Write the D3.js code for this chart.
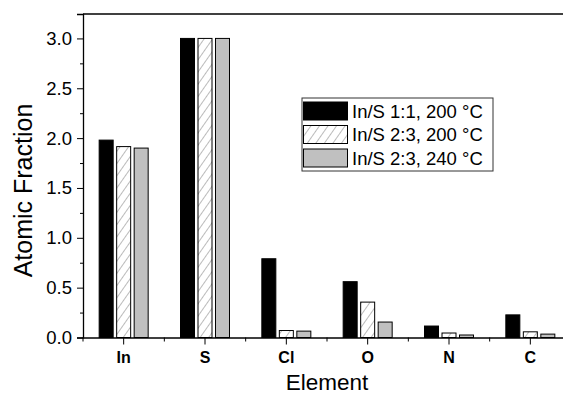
<!DOCTYPE html>
<html>
<head>
<meta charset="utf-8">
<script src="https://cdn.jsdelivr.net/npm/d3@7"></script>
<style>
  body { margin: 0; background: #fff; overflow: hidden; }
  svg { display: block; font-family: "Liberation Sans", Arial, sans-serif; }
</style>
</head>
<body>
<div id="chart"></div>
<script>
let elements = ["In", "S", "Cl", "O", "N", "C"];
let seriesNames = ["In/S 1:1, 200 °C", "In/S 2:3, 200 °C", "In/S 2:3, 240 °C"];
let black11 = [1.98, 3.0, 0.79, 0.56, 0.115, 0.227];
let hatch23 = [1.915, 3.0, 0.07, 0.355, 0.045, 0.057];
let gray23  = [1.90, 3.0, 0.064, 0.155, 0.025, 0.034];
let yTicks = [0, 0.5, 1.0, 1.5, 2.0, 2.5, 3.0];

let width = 563, height = 394;
let margin = { top: 14, left: 83, bottom: 337.5, right: 571 };

let seriesValues = [black11, hatch23, gray23];
let data = [];
elements.forEach(function(el, i) {
    seriesNames.forEach(function(s, j) {
        data.push({ element: el, series: s, value: seriesValues[j][i] });
    });
});

let xScale = d3.scaleBand()
    .domain(elements)
    .range([margin.left, margin.right]);

let inner = d3.scaleBand()
    .domain(seriesNames)
    .range([-24.5, 24.5])
    .paddingInner(0.2);

let yScale = d3.scaleLinear()
    .domain([0, 3.245])
    .range([margin.bottom, margin.top]);

let fillFor = function(s) {
    if (s === seriesNames[0]) return "#000";
    if (s === seriesNames[1]) return "url(#hatch)";
    return "#c0c0c0";
};

let svg = d3.select("#chart").append("svg")
    .attr("width", width)
    .attr("height", height);

// hatch pattern for the 2:3 / 200 series
let pat = svg.append("defs").append("pattern")
    .attr("id", "hatch")
    .attr("patternUnits", "userSpaceOnUse")
    .attr("width", 7)
    .attr("height", 7)
    .attr("patternTransform", "rotate(35)");
pat.append("rect").attr("width", 7).attr("height", 7).attr("fill", "#fff");
pat.append("line")
    .attr("x1", 0).attr("y1", 0).attr("x2", 0).attr("y2", 7)
    .attr("stroke", "#555").attr("stroke-width", 0.8);

// bars
svg.selectAll(".bar")
    .data(data)
    .enter().append("rect")
    .attr("class", "bar")
    .attr("x", function(d) { return xScale(d.element) + xScale.bandwidth() / 2 + inner(d.series); })
    .attr("width", inner.bandwidth())
    .attr("y", function(d) { return yScale(d.value); })
    .attr("height", function(d) { return yScale(0) - yScale(d.value); })
    .attr("fill", function(d) { return fillFor(d.series); })
    .attr("stroke", "#000")
    .attr("stroke-width", 1);

// frame top line
svg.append("line")
    .attr("x1", margin.left).attr("x2", margin.right)
    .attr("y1", margin.top).attr("y2", margin.top)
    .attr("stroke", "#000").attr("stroke-width", 1.3);
svg.append("line")
    .attr("x1", margin.right).attr("x2", margin.right)
    .attr("y1", margin.top).attr("y2", margin.bottom)
    .attr("stroke", "#000").attr("stroke-width", 1.3);

// y axis
let yAxis = svg.append("g")
    .attr("transform", "translate(" + margin.left + ",0)")
    .call(d3.axisLeft(yScale).tickValues(yTicks).tickFormat(d3.format(".1f")).tickSize(6).tickPadding(5));
yAxis.selectAll("text").attr("font-size", 18.5).attr("font-family", "Liberation Sans, Arial").attr("fill", "#000");
yAxis.select(".domain").attr("stroke-width", 1.3);

let yMinor = svg.append("g")
    .attr("transform", "translate(" + margin.left + ",0)")
    .call(d3.axisLeft(yScale).tickValues(d3.range(0.25, 3.2, 0.5)).tickSize(3).tickFormat(""));
yMinor.select(".domain").remove();

// x axis
let xAxis = svg.append("g")
    .attr("transform", "translate(0," + margin.bottom + ")")
    .call(d3.axisBottom(xScale).tickSize(7).tickPadding(7).tickSizeOuter(0));
xAxis.selectAll("text")
    .attr("font-size", 16)
    .attr("font-weight", "bold")
    .attr("font-family", "Liberation Sans, Arial")
    .attr("fill", "#000");
xAxis.select(".domain").attr("stroke-width", 1.3);

let boundaries = elements.map(function(e) { return xScale(e); }).concat([margin.right]);
svg.append("g").selectAll("line")
    .data(boundaries)
    .enter().append("line")
    .attr("x1", function(d) { return d; }).attr("x2", function(d) { return d; })
    .attr("y1", margin.bottom).attr("y2", margin.bottom + 4)
    .attr("stroke", "#000");

// axis titles
svg.append("text")
    .attr("x", 327).attr("y", 390)
    .attr("text-anchor", "middle")
    .attr("font-size", 22.5)
    .text("Element");

svg.append("text")
    .attr("transform", "translate(32,190.5) rotate(-90)")
    .attr("text-anchor", "middle")
    .attr("font-size", 25)
    .text("Atomic Fraction");

// legend
let legend = svg.append("g").attr("transform", "translate(302,98)");
legend.append("rect")
    .attr("width", 191).attr("height", 73)
    .attr("fill", "#fff").attr("stroke", "#333").attr("stroke-width", 1);
let rows = legend.selectAll(".row")
    .data(seriesNames)
    .enter().append("g")
    .attr("class", "row")
    .attr("transform", function(d, i) { return "translate(0," + (4 + i * 23.5) + ")"; });
rows.append("rect")
    .attr("x", 1.5).attr("width", 44).attr("height", 18)
    .attr("fill", function(d) { return fillFor(d); })
    .attr("stroke", "#000");
rows.append("text")
    .attr("x", 50).attr("y", 15.5)
    .attr("font-size", 18.5)
    .text(function(d) { return d; });
</script>
</body>
</html>
